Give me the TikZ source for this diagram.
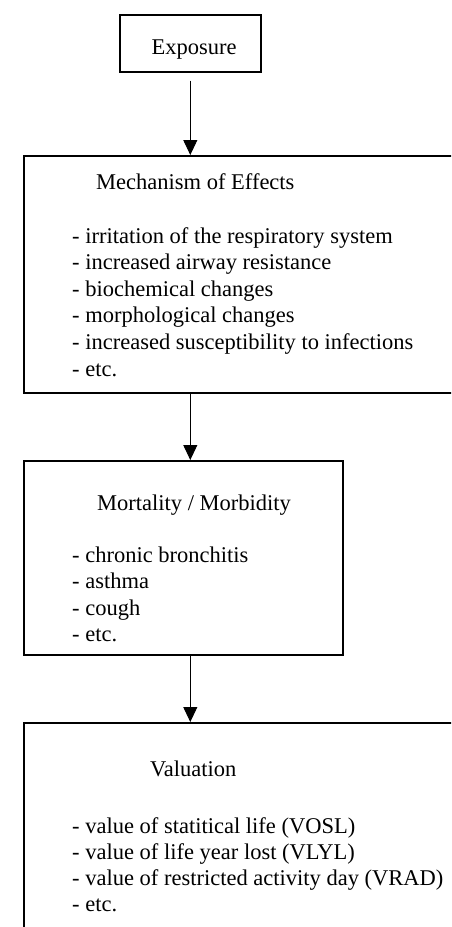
\documentclass[tikz,border=0pt]{standalone}
\usepackage{fontspec}
\setmainfont{Liberation Serif}
\usetikzlibrary{arrows.meta}

\tikzset{
  frame/.style={draw, line width=1.6pt, inner sep=0pt, anchor=north west},
  txt/.style={anchor=base west, inner sep=0pt, font=\fontsize{22.5}{26.6}\selectfont},
  flow/.style={-{Triangle[length=15pt,width=14pt]}, line width=1pt}
}

\begin{document}
\begin{tikzpicture}[x=1pt,y=-1pt]

\clip (0,0) rectangle (451,927);

\node[frame, minimum width=141pt, minimum height=57pt] (expo) at (119,14) {};
\node[frame, minimum width=460pt, minimum height=237pt] (mech) at (23,155) {};
\node[frame, minimum width=319pt, minimum height=194pt] (mort) at (23,460) {};
\node[frame, minimum width=460pt, minimum height=260pt] (valu) at (23,722) {};

\node[txt] (expo-t) at (151.5,54) {Exposure};
\node[txt] (mech-t) at (96,189) {Mechanism of Effects};
\node[txt] (mort-t) at (97,510) {Mortality / Morbidity};
\node[txt] (valu-t) at (150,776) {Valuation};

\foreach \entry [count=\i] in {irritation of the respiratory system,
    increased airway resistance, biochemical changes, morphological changes,
    increased susceptibility to infections, etc.}
  \node[txt] (mech-\i) at (72,{243+26.6*(\i-1)}) {- \entry};

\foreach \entry [count=\i] in {chronic bronchitis, asthma, cough, etc.}
  \node[txt] (mort-\i) at (72,{562+26.6*(\i-1)}) {- \entry};

\foreach \entry [count=\i] in {value of statitical life (VOSL),
    value of life year lost (VLYL), value of restricted activity day (VRAD), etc.}
  \node[txt] (valu-\i) at (72,{833+26*(\i-1)}) {- \entry};

\draw[flow, shorten <=8pt] (expo.south) -- (expo.south |- mech.north);
\draw[flow] (expo.south |- mech.south) -- (expo.south |- mort.north);
\draw[flow] (expo.south |- mort.south) -- (expo.south |- valu.north);

\end{tikzpicture}
\end{document}
